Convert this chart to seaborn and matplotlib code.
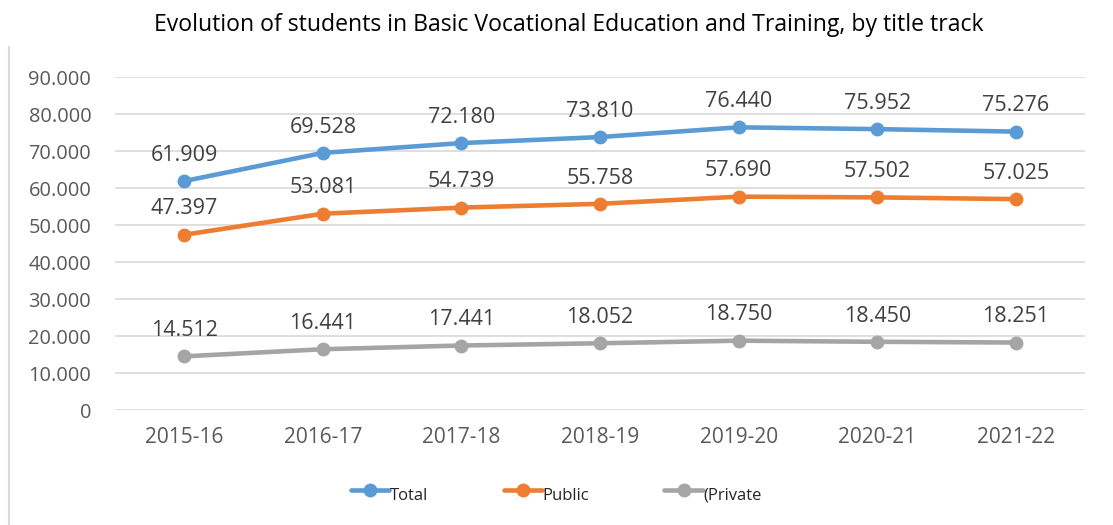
import matplotlib.pyplot as plt
import matplotlib.lines as mlines
import pandas as pd
import seaborn as sns

years = ["2015-16", "2016-17", "2017-18", "2018-19", "2019-20", "2020-21", "2021-22"]
total = [61909, 69528, 72180, 73810, 76440, 75952, 75276]
public = [47397, 53081, 54739, 55758, 57690, 57502, 57025]
private = [14512, 16441, 17441, 18052, 18750, 18450, 18251]
series_names = ["Total", "Public", "(Private"]
colors = ["#5B9BD5", "#ED7D31", "#A5A5A5"]


def fmt(v):
    # thousands separator with a dot
    return f"{v:,.0f}".replace(",", ".")


df = pd.DataFrame({
    "year": years * 3,
    "students": total + public + private,
    "series": [series_names[0]] * 7 + [series_names[1]] * 7 + [series_names[2]] * 7,
})
df["x"] = df["year"].map({y: i for i, y in enumerate(years)})

sns.set_theme(style="white")
plt.rcParams["font.family"] = ["Open Sans", "DejaVu Sans"]

fig = plt.figure(figsize=(11.13, 5.25), dpi=100)
ax = fig.add_axes([0.1033, 0.219, 0.8717, 0.634])

sns.lineplot(
    data=df, x="x", y="students", hue="series", hue_order=series_names,
    palette=colors, marker="o", markersize=10, markeredgewidth=0,
    linewidth=3.3, legend=False, ax=ax,
)

for vals in [total, public, private]:
    for i, v in enumerate(vals):
        ax.annotate(fmt(v), (i, v), xytext=(0, 11), textcoords="offset points",
                    ha="center", va="bottom", fontsize=15.5, color="#404040")

ax.set_xlim(-0.5, 6.5)
ax.set_ylim(0, 90000)
ax.set_xticks(range(len(years)))
ax.set_xticklabels(years)
ax.set_yticks(range(0, 90001, 10000))
ax.set_yticklabels([fmt(v) for v in range(0, 90001, 10000)])
ax.tick_params(axis="x", labelsize=15, colors="#595959", length=0, pad=12)
ax.tick_params(axis="y", labelsize=14.4, colors="#595959", length=0, pad=17)
ax.yaxis.grid(True, color="#D9D9D9", linewidth=1.2)
ax.set_axisbelow(True)
for s in ax.spines.values():
    s.set_visible(False)
ax.set_xlabel("")
ax.set_ylabel("")

fig.suptitle("Evolution of students in Basic Vocational Education and Training, by title track",
             x=0.511, y=0.975, fontsize=16.6, color="#000000")

handles = [mlines.Line2D([], [], color=c, marker="o", markersize=10, linewidth=3.3,
                         markeredgewidth=0) for c in colors]
leg = fig.legend(handles, series_names, loc="lower center", bbox_to_anchor=(0.5, 0.02),
                 ncol=3, frameon=False, fontsize=12, columnspacing=4.5, handlelength=2.3,
                 handletextpad=0.05)
for t in leg.get_texts():
    t.set_verticalalignment("center")

# faint chart border on the left
fig.add_artist(mlines.Line2D([0.008, 0.008], [0.0, 0.91], color="#D9D9D9", linewidth=1.5))

fig.savefig("out.png", dpi=100)
